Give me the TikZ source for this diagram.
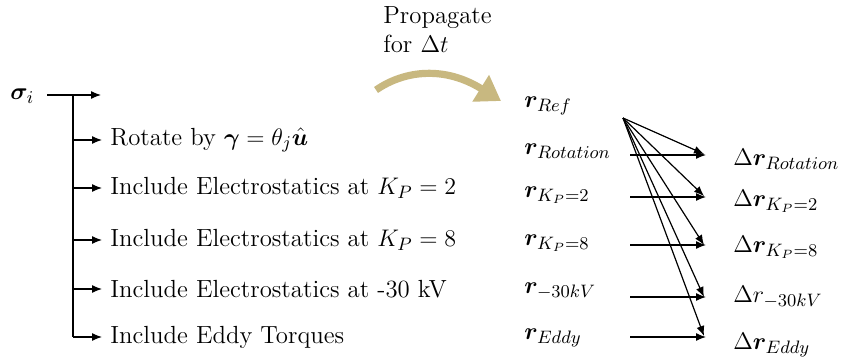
\documentclass[tikz,border=0pt]{standalone}
\usepackage{amsmath,bm}
\usetikzlibrary{arrows.meta}
\definecolor{tan}{RGB}{200,184,128}
\begin{document}
\begin{tikzpicture}[x=0.5pt,y=-0.5pt,
  lbl/.style={anchor=west,inner sep=0pt,font=\fontsize{12.4}{14.5}\selectfont},
  arr/.style={-{Latex[length=5pt,width=4pt]},line width=0.6pt},
  ln/.style={line width=0.6pt}]
\useasboundingbox (0,0) rectangle (846,358);
\node[lbl] (sig) at (10,96) {$\bm{\sigma}_i$};
\coordinate (s0) at (47,95);
\coordinate (j0) at (73,95);
\coordinate (e0) at (101,95);
\draw[arr] (s0) -- (e0);
\coordinate (j5) at (73,337);
\draw[ln] (j0) -- (j5);
\node[lbl] (t1) at (110,140) {Rotate by $\bm{\gamma}=\theta_j\hat{\bm{u}}$};
\node[lbl] (t2) at (110,188) {Include Electrostatics at $K_P=2$};
\node[lbl] (t3) at (110,240) {Include Electrostatics at $K_P=8$};
\node[lbl] (t4) at (110,289) {Include Electrostatics at -30 kV};
\node[lbl] (t5) at (110,337) {Include Eddy Torques};
\foreach \i/\y in {1/140,2/188,3/240,4/289,5/337}{
  \coordinate (b\i) at (73,\y);
  \draw[arr] (b\i) -- ([xshift=-4pt]t\i.west);
}
\node[lbl,align=left,anchor=north west] (prop) at (383,6) {Propagate\\for $\Delta t$};
\coordinate (c0) at (376,90);
\coordinate (c1) at (501,101);
\draw[tan,line width=3.6pt,-{Triangle[length=12pt,width=15pt]}] (c0) .. controls (405,70) and (445,66) .. (c1);
\node[lbl] (r0) at (524,106) {$\bm{r}_{Ref}$};
\node[lbl] (r1) at (524,151) {$\bm{r}_{Rotation}$};
\node[lbl] (r2) at (524,195) {$\bm{r}_{K_P=2}$};
\node[lbl] (r3) at (524,243) {$\bm{r}_{K_P=8}$};
\node[lbl] (r4) at (524,291) {$\bm{r}_{-30kV}$};
\node[lbl] (r5) at (524,338) {$\bm{r}_{Eddy}$};
\node[lbl] (d1) at (733,159) {$\Delta\bm{r}_{Rotation}$};
\node[lbl] (d2) at (733,201) {$\Delta\bm{r}_{K_P=2}$};
\node[lbl] (d3) at (733,247) {$\Delta\bm{r}_{K_P=8}$};
\node[lbl] (d4) at (733,297) {$\Delta r_{-30kV}$};
\node[lbl] (d5) at (733,345) {$\Delta\bm{r}_{Eddy}$};
\coordinate (o) at (623,118);
\foreach \i/\y in {1/155,2/197,3/245,4/297,5/337}{
  \coordinate (h\i) at (630,\y);
  \coordinate (p\i) at (706,\y);
  \draw[arr] (h\i) -- (p\i);
}
\foreach \i/\y in {1/154,2/196,3/245,4/297,5/336}{
  \coordinate (q\i) at (704,\y);
  \draw[arr] (o) -- (q\i);
}
\end{tikzpicture}
\end{document}
